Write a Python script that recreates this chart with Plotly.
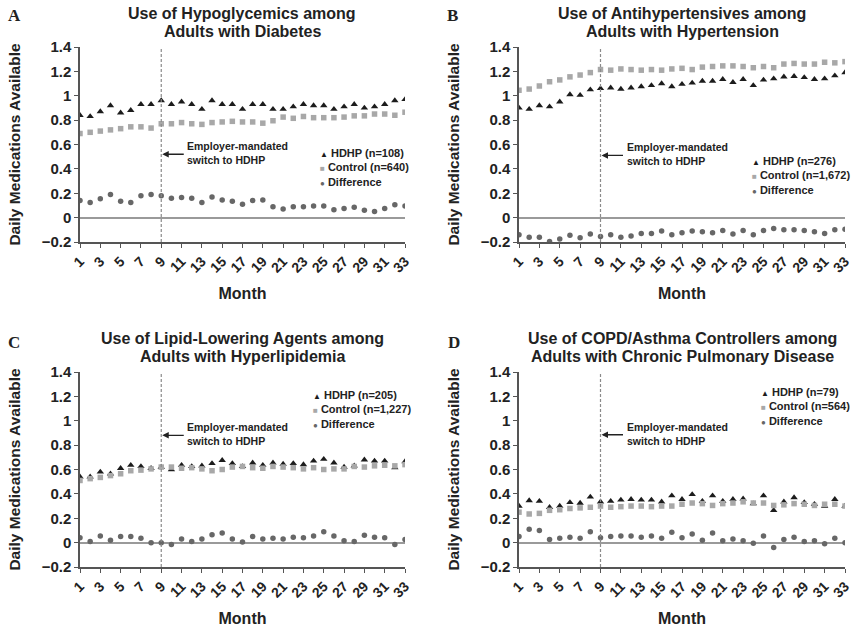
import plotly.graph_objects as go

months = list(range(1, 34))

# Panel A: Hypoglycemics / Diabetes
a_hdhp = [0.84, 0.83, 0.87, 0.92, 0.86, 0.88, 0.93, 0.93, 0.96, 0.93, 0.95, 0.93, 0.89, 0.96, 0.93,
          0.93, 0.89, 0.93, 0.93, 0.89, 0.89, 0.91, 0.93, 0.92, 0.92, 0.89, 0.91, 0.93, 0.90, 0.91,
          0.93, 0.96, 0.97]
a_ctrl = [0.69, 0.70, 0.71, 0.72, 0.73, 0.745, 0.745, 0.735, 0.77, 0.77, 0.78, 0.77, 0.765, 0.78,
          0.785, 0.79, 0.785, 0.785, 0.775, 0.795, 0.825, 0.815, 0.83, 0.82, 0.82, 0.82, 0.825,
          0.835, 0.835, 0.85, 0.85, 0.84, 0.865]
a_diff = [0.14, 0.125, 0.155, 0.19, 0.135, 0.125, 0.18, 0.19, 0.18, 0.16, 0.165, 0.16, 0.125, 0.17,
          0.145, 0.135, 0.11, 0.14, 0.145, 0.09, 0.07, 0.09, 0.09, 0.095, 0.095, 0.065, 0.075,
          0.085, 0.06, 0.05, 0.075, 0.105, 0.095]

# Panel B: Antihypertensives / Hypertension
b_hdhp = [0.90, 0.89, 0.92, 0.91, 0.95, 1.01, 1.005, 1.05, 1.06, 1.065, 1.055, 1.065, 1.075, 1.085,
          1.10, 1.075, 1.095, 1.105, 1.12, 1.12, 1.135, 1.11, 1.135, 1.085, 1.13, 1.14, 1.155,
          1.16, 1.15, 1.135, 1.14, 1.165, 1.19]
b_ctrl = [1.045, 1.055, 1.08, 1.115, 1.13, 1.155, 1.17, 1.19, 1.215, 1.21, 1.22, 1.215, 1.21, 1.215,
          1.21, 1.22, 1.225, 1.215, 1.235, 1.24, 1.245, 1.245, 1.24, 1.23, 1.24, 1.23, 1.26, 1.265,
          1.26, 1.26, 1.275, 1.27, 1.28]
b_diff = [-0.14, -0.16, -0.16, -0.195, -0.175, -0.145, -0.165, -0.135, -0.155, -0.14, -0.16, -0.15,
          -0.13, -0.13, -0.11, -0.14, -0.125, -0.11, -0.115, -0.125, -0.105, -0.135, -0.105, -0.14,
          -0.105, -0.09, -0.10, -0.10, -0.105, -0.115, -0.13, -0.10, -0.095]

# Panel C: Lipid-lowering agents / Hyperlipidemia
c_hdhp = [0.54, 0.54, 0.58, 0.565, 0.61, 0.635, 0.625, 0.61, 0.62, 0.60, 0.635, 0.625, 0.63, 0.65,
          0.675, 0.65, 0.625, 0.655, 0.635, 0.655, 0.645, 0.65, 0.64, 0.67, 0.685, 0.655, 0.62,
          0.63, 0.68, 0.67, 0.67, 0.615, 0.665]
c_ctrl = [0.51, 0.525, 0.535, 0.55, 0.565, 0.59, 0.595, 0.605, 0.62, 0.62, 0.61, 0.615, 0.605, 0.59,
          0.60, 0.62, 0.625, 0.615, 0.61, 0.625, 0.62, 0.615, 0.605, 0.615, 0.60, 0.605, 0.605,
          0.625, 0.62, 0.63, 0.635, 0.63, 0.64]
c_diff = [0.04, 0.01, 0.055, 0.02, 0.05, 0.05, 0.035, 0.0, 0.0, -0.015, 0.03, 0.01, 0.03, 0.065, 0.08,
          0.03, 0.005, 0.05, 0.03, 0.035, 0.03, 0.045, 0.04, 0.055, 0.09, 0.055, 0.015, 0.01, 0.06,
          0.045, 0.04, -0.015, 0.025]

# Panel D: COPD/Asthma controllers / Chronic pulmonary disease
d_hdhp = [0.30, 0.345, 0.34, 0.29, 0.30, 0.33, 0.325, 0.375, 0.335, 0.34, 0.35, 0.355, 0.35, 0.35,
          0.335, 0.385, 0.355, 0.395, 0.34, 0.385, 0.34, 0.355, 0.36, 0.32, 0.385, 0.265, 0.335,
          0.37, 0.33, 0.315, 0.30, 0.355, 0.30]
d_ctrl = [0.25, 0.235, 0.24, 0.265, 0.27, 0.28, 0.285, 0.29, 0.30, 0.29, 0.295, 0.30, 0.30, 0.295,
          0.30, 0.30, 0.315, 0.325, 0.32, 0.305, 0.32, 0.325, 0.335, 0.325, 0.325, 0.305, 0.31,
          0.32, 0.315, 0.305, 0.315, 0.315, 0.30]
d_diff = [0.05, 0.11, 0.10, 0.025, 0.035, 0.045, 0.035, 0.09, 0.04, 0.05, 0.055, 0.055, 0.045, 0.055,
          0.035, 0.085, 0.04, 0.07, 0.02, 0.08, 0.015, 0.03, 0.015, -0.005, 0.055, -0.04, 0.025,
          0.045, 0.01, 0.015, -0.01, 0.035, 0.0]

panel_letters = ["A", "B", "C", "D"]
title_line1 = ["Use of Hypoglycemics among", "Use of Antihypertensives among",
               "Use of Lipid-Lowering Agents among", "Use of COPD/Asthma Controllers among"]
title_line2 = ["Adults with Diabetes", "Adults with Hypertension",
               "Adults with Hyperlipidemia", "Adults with Chronic Pulmonary Disease"]
hdhp_n = ["HDHP (n=108)", "HDHP (n=276)", "HDHP (n=205)", "HDHP (n=79)"]
ctrl_n = ["Control (n=640)", "Control (n=1,672)", "Control (n=1,227)", "Control (n=564)"]
diff_name = "Difference"
switch_month = 9
arrow_y = [0.52, 0.51, 0.88, 0.885]
y_ticks = [-0.2, 0, 0.2, 0.4, 0.6, 0.8, 1, 1.2, 1.4]
y_ticktext = ["\u22120.2", "0", "0.2", "0.4", "0.6", "0.8", "1", "1.2", "1.4"]
x_ticks = list(range(1, 34, 2))

data = [(a_hdhp, a_ctrl, a_diff), (b_hdhp, b_ctrl, b_diff),
        (c_hdhp, c_ctrl, c_diff), (d_hdhp, d_ctrl, d_diff)]

C_HDHP, C_CTRL, C_DIFF = "#1c1c1c", "#a8a8a8", "#676767"
W, H = 853, 628
FONT = "Liberation Sans, Arial, sans-serif"
TXT = "#222222"
# pixel boxes of plot areas (left, right, top, bottom)
boxes = [(80, 405, 47, 242), (519, 845, 47, 242), (80, 405, 372, 567), (519, 845, 372, 567)]
legend_pos = [(318, 168), (750, 176), (311, 409), (759, 406)]
title_y = [(14, 31), (14, 31), (338, 356), (338, 356)]
letter_pos = [(14, 15), (452, 15), (14, 342), (454, 342)]

fig = go.Figure()
layout = dict(width=W, height=H, margin=dict(l=0, r=0, t=0, b=0),
              paper_bgcolor="white", plot_bgcolor="white", showlegend=False,
              font=dict(family=FONT, color=TXT), annotations=[], shapes=[])

for i, (hd, ct, df) in enumerate(data):
    k = "" if i == 0 else str(i + 1)
    xa, ya = "x" + k, "y" + k
    fig.add_trace(go.Scatter(x=months, y=hd, mode="markers", name=hdhp_n[i], xaxis=xa, yaxis=ya,
                             marker=dict(symbol="triangle-up", size=6.5, color=C_HDHP)))
    fig.add_trace(go.Scatter(x=months, y=ct, mode="markers", name=ctrl_n[i], xaxis=xa, yaxis=ya,
                             marker=dict(symbol="square", size=5.5, color=C_CTRL)))
    fig.add_trace(go.Scatter(x=months, y=df, mode="markers", name=diff_name, xaxis=xa, yaxis=ya,
                             marker=dict(symbol="circle", size=5.5, color=C_DIFF)))
    l, r, t, b = boxes[i]
    layout["xaxis" + k] = dict(domain=[l / W, r / W], range=[1, 33], anchor=ya,
                               tickmode="array", tickvals=x_ticks, ticktext=[str(v) for v in x_ticks],
                               tickangle=-45, ticks="outside", ticklen=4, tickcolor="#555",
                               showline=True, linecolor="#555", linewidth=1.5, showgrid=False,
                               zeroline=False, automargin=False,
                               tickfont=dict(family=FONT, size=14, weight="bold", color=TXT),
                               title=dict(text="Month", standoff=13,
                                          font=dict(family=FONT, size=16, weight="bold", color=TXT)))
    layout["yaxis" + k] = dict(domain=[1 - b / H, 1 - t / H], range=[-0.2, 1.4], anchor=xa,
                               tickmode="array", tickvals=y_ticks, ticktext=y_ticktext,
                               ticks="outside", ticklen=4, tickcolor="#555",
                               showline=True, linecolor="#555", linewidth=1.5, showgrid=False,
                               zeroline=True, zerolinecolor="#9a9a9a", zerolinewidth=1.5,
                               automargin=False,
                               tickfont=dict(family=FONT, size=15, weight="bold", color=TXT),
                               title=dict(text="Daily Medications Available", standoff=17,
                                          font=dict(family=FONT, size=15.5, weight="bold", color=TXT)))
    # dashed vertical line at switch month
    layout["shapes"].append(dict(type="line", xref=xa, yref=ya + " domain", x0=switch_month,
                                 x1=switch_month, y0=0, y1=1,
                                 line=dict(color="#8a8a8a", width=1.2, dash="3px,2px")))
    # arrow
    layout["annotations"].append(dict(x=switch_month, y=arrow_y[i], xref=xa, yref=ya, text="",
                                      showarrow=True, ax=24, ay=0, arrowhead=2, arrowsize=1,
                                      arrowwidth=1.3, arrowcolor=TXT, standoff=1))
    layout["annotations"].append(dict(x=switch_month, y=arrow_y[i], xref=xa, yref=ya,
                                      text="Employer-mandated<br>switch to HDHP", showarrow=False,
                                      xanchor="left", yanchor="middle", align="left", xshift=24,
                                      yshift=1,
                                      font=dict(family=FONT, size=10.5, weight="bold", color=TXT)))
    # legend (text block with coloured symbols)
    lx, ly = legend_pos[i]
    legend_text = (f"<span style='color:{C_HDHP};font-size:8px'>\u25B2</span> {hdhp_n[i]}<br>"
                   f"<span style='color:{C_CTRL};font-size:8px'>\u25A0</span> {ctrl_n[i]}<br>"
                   f"<span style='color:{C_DIFF};font-size:8px'>\u25CF</span> {diff_name}")
    layout["annotations"].append(dict(x=lx / W, y=1 - ly / H, xref="paper", yref="paper",
                                      text=legend_text, showarrow=False, xanchor="left",
                                      yanchor="middle", align="left",
                                      font=dict(family=FONT, size=11, weight="bold", color=TXT)))
    # title (two lines)
    cx = (l + r) / 2
    for line, yy in zip((title_line1[i], title_line2[i]), title_y[i]):
        layout["annotations"].append(dict(x=cx / W, y=1 - yy / H, xref="paper", yref="paper",
                                          text=line, showarrow=False, xanchor="center",
                                          yanchor="middle",
                                          font=dict(family=FONT, size=16, weight="bold", color=TXT)))
    # panel letter
    px, py = letter_pos[i]
    layout["annotations"].append(dict(x=px / W, y=1 - py / H, xref="paper", yref="paper",
                                      text=panel_letters[i], showarrow=False, xanchor="center",
                                      yanchor="middle",
                                      font=dict(family="Liberation Serif, serif", size=17,
                                                weight="bold", color=TXT)))

fig.update_layout(**layout)
fig.write_html("out.html", config={"displayModeBar": False},
               post_script="document.body.style.margin='0px';")
